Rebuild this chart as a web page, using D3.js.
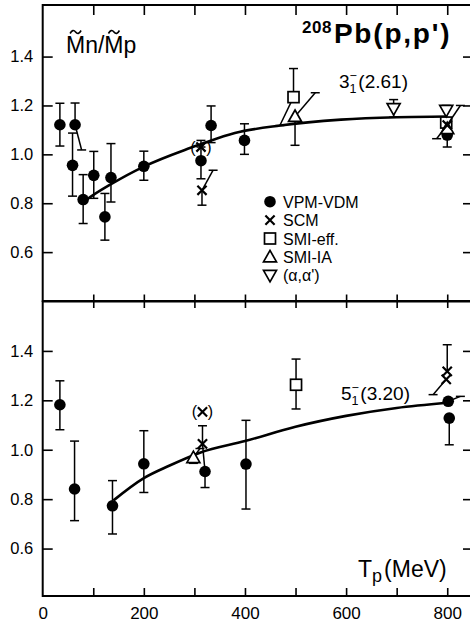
<!DOCTYPE html>
<html>
<head>
<meta charset="utf-8">
<script src="https://cdn.jsdelivr.net/npm/d3@7"></script>
<style>
  html, body { margin: 0; padding: 0; background: #fff; }
  svg { display: block; font-family: "Liberation Sans", Arial, Helvetica, sans-serif; }
</style>
</head>
<body>
<svg id="chart" width="470" height="625"></svg>
<script>
// ---- data: ratio Mn/Mp vs proton energy Tp (MeV), 208Pb(p,p') ----
// error-bar ends: lo/hi values; loT/hiT give the energy at a tilted bar end
const X_LABEL_TICKS = [0, 200, 400, 600, 800];
const X_MINOR_TICKS = [100, 200, 300, 400, 500, 600, 700, 800];
const Y_TICKS = [0.6, 0.8, 1.0, 1.2, 1.4];

// 3- (2.61 MeV) state
const top_vpm = [
  {T: 34,  v: 1.121, lo: 1.034, hi: 1.209},
  {T: 64,  v: 1.121, lo: 1.018, loT: 77, hi: 1.210},
  {T: 59,  v: 0.955, lo: 0.829, hi: 1.087},
  {T: 80,  v: 0.815, lo: 0.717, hi: 0.917},
  {T: 101, v: 0.914, lo: 0.820, hi: 1.012},
  {T: 123, v: 0.744, lo: 0.649, hi: 0.840},
  {T: 135, v: 0.905, lo: 0.805, hi: 1.044},
  {T: 200, v: 0.951, lo: 0.894, hi: 1.013},
  {T: 313, v: 0.974, lo: 0.900, hi: 1.030},
  {T: 333, v: 1.118, lo: 1.048, hi: 1.198},
  {T: 399, v: 1.057, lo: 1.000, hi: 1.125},
  {T: 800, v: 1.079, lo: 1.030}
];
const top_scm = [
  {T: 315, v: 0.853, lo: 0.792, hi: 0.935, hiT: 337},
  {T: 800, v: 1.120, lo: 1.064, loT: 779, hi: 1.200, hiT: 826}
];
const top_scm_bracketed = [
  {T: 313, v: 1.030, hi: 1.057}
];
const top_smiEff = [
  {T: 496, v: 1.234, lo: 1.118, loT: 469, hi: 1.351},
  {T: 798, v: 1.130}
];
const top_smiIA = [
  {T: 499, v: 1.155, lo: 1.037, hi: 1.252, hiT: 539},
  {T: 800, v: 1.105}
];
const top_alpha = [
  {T: 694, v: 1.187, lo: 1.152, hi: 1.224},
  {T: 798, v: 1.180, hi: 1.200}
];
const top_curve = [
  [85, 0.812], [101, 0.835], [135, 0.878], [200, 0.950], [281, 1.018],
  [311, 1.040], [380, 1.087], [470, 1.118], [590, 1.142], [700, 1.152], [800, 1.155]
];

// 5- (3.20 MeV) state
const bot_vpm = [
  {T: 34,  v: 1.182, lo: 1.081, hi: 1.279},
  {T: 63,  v: 0.841, lo: 0.713, hi: 1.035},
  {T: 138, v: 0.773, lo: 0.659, hi: 0.875},
  {T: 200, v: 0.943, lo: 0.827, hi: 1.077},
  {T: 321, v: 0.912, lo: 0.847},
  {T: 402, v: 0.942, lo: 0.760, hi: 1.119},
  {T: 802, v: 1.196, hi: 1.216, hiT: 826},
  {T: 804, v: 1.128, lo: 1.020}
];
const bot_scm = [
  {T: 316, v: 1.024, lo: 0.912, loT: 321, hi: 1.097},
  {T: 800, v: 1.317, hi: 1.425},
  {T: 798, v: 1.285, lo: 1.223, loT: 772}
];
const bot_smiEff = [
  {T: 501, v: 1.263, lo: 1.165, hi: 1.367}
];
const bot_smiIA = [
  {T: 298, v: 0.968, lo: 0.945, hi: 1.005, hiT: 311}
];
const bot_curve = [
  [140, 0.795], [200, 0.885], [250, 0.935], [311, 0.988], [400, 1.035],
  [500, 1.093], [600, 1.137], [700, 1.169], [800, 1.190]
];

const legendItems = [
  {kind: "circle", label: "VPM-VDM"},
  {kind: "cross", label: "SCM"},
  {kind: "square", label: "SMI-eff."},
  {kind: "tri", label: "SMI-IA"},
  {kind: "itri", label: "(\u03b1,\u03b1')"}
];

// ---- layout ----
const svg = d3.select("#chart");
const X0 = 42.7, X1 = 471;
const x = d3.scaleLinear().domain([0, 847]).range([X0, X1]);
const panels = [
  {y: d3.scaleLinear().domain([0.4, 1.611]).range([301, 5])},
  {y: d3.scaleLinear().domain([0.408, 1.6]).range([596, 301.5])}
];
const CAP = 4.5;

function bars(g, y, d) {
  const cx = x(d.T), cy = y(d.v);
  [["hi", "hiT"], ["lo", "loT"]].forEach(([k, kt]) => {
    if (d[k] == null) return;
    const ex = x(d[kt] != null ? d[kt] : d.T), ey = y(d[k]);
    g.append("line").attr("x1", cx).attr("y1", cy).attr("x2", ex).attr("y2", ey);
    g.append("line").attr("x1", ex - CAP).attr("y1", ey).attr("x2", ex + CAP).attr("y2", ey);
  });
}

function symbol(g, kind, cx, cy) {
  if (kind === "circle") {
    g.append("circle").attr("cx", cx).attr("cy", cy).attr("r", 5.8).attr("fill", "#000");
  } else if (kind === "cross") {
    const s = 4.6;
    g.append("path").attr("d", `M${cx - s},${cy - s}L${cx + s},${cy + s}M${cx - s},${cy + s}L${cx + s},${cy - s}`)
      .attr("stroke", "#000").attr("stroke-width", 2.2).attr("fill", "none");
  } else if (kind === "square") {
    g.append("rect").attr("x", cx - 5.5).attr("y", cy - 5.5).attr("width", 11).attr("height", 11)
      .attr("fill", "#fff").attr("stroke", "#000").attr("stroke-width", 1.7);
  } else if (kind === "tri") {
    g.append("path").attr("d", `M${cx},${cy - 6.5}L${cx + 6.5},${cy + 5}L${cx - 6.5},${cy + 5}Z`)
      .attr("fill", "#fff").attr("stroke", "#000").attr("stroke-width", 1.7);
  } else if (kind === "itri") {
    g.append("path").attr("d", `M${cx},${cy + 6.5}L${cx + 6.5},${cy - 5}L${cx - 6.5},${cy - 5}Z`)
      .attr("fill", "#fff").attr("stroke", "#000").attr("stroke-width", 1.7);
  }
}

function series(panel, data, kind) {
  const gb = panel.g.append("g").attr("stroke", "#000").attr("stroke-width", 1.5);
  data.forEach(d => bars(gb, panel.y, d));
  const gs = panel.g.append("g");
  data.forEach(d => symbol(gs, kind, x(d.T), panel.y(d.v)));
}

const line = (y) => d3.line().x(d => x(d[0])).y(d => y(d[1])).curve(d3.curveMonotoneX);

panels.forEach((p, i) => {
  p.g = svg.append("g");
  const [yb, yt] = p.y.range();
  // inward tick marks
  const axL = d3.axisLeft(p.y).tickValues(Y_TICKS).tickSize(-10).tickPadding(9.5)
    .tickFormat(d3.format(".1f"));
  const gL = p.g.append("g").attr("transform", `translate(${X0},0)`).call(axL);
  gL.select(".domain").remove();
  gL.selectAll("line").attr("stroke-width", 1.6);
  gL.selectAll("text").attr("font-size", 16.5).attr("font-family", "Liberation Sans, Arial, sans-serif").attr("fill", "#000");

  const gR = p.g.append("g").attr("transform", `translate(${X1},0)`)
    .call(d3.axisRight(p.y).tickValues(Y_TICKS).tickSize(-8).tickFormat(""));
  gR.select(".domain").remove();
  gR.selectAll("line").attr("stroke-width", 1.6);

  const gT = p.g.append("g").attr("transform", `translate(0,${yt})`)
    .call(d3.axisTop(x).tickValues(X_MINOR_TICKS).tickSize(i === 0 ? -10 : 7).tickFormat(""));
  gT.select(".domain").remove();
  gT.selectAll("line").attr("stroke-width", 1.6);
  const gB = p.g.append("g").attr("transform", `translate(0,${yb})`)
    .call(d3.axisBottom(x).tickValues(X_MINOR_TICKS).tickSize(i === 0 ? 7 : -8).tickFormat(""));
  gB.select(".domain").remove();
  gB.selectAll("line").attr("stroke-width", 1.6);

  // frame
  p.g.append("rect").attr("x", X0).attr("y", yt).attr("width", X1 - X0).attr("height", yb - yt)
    .attr("fill", "none").attr("stroke", "#000").attr("stroke-width", 2);
});

// x-axis labels under the lower panel
const gX = svg.append("g").attr("transform", `translate(0,596)`)
  .call(d3.axisBottom(x).tickValues(X_LABEL_TICKS).tickSize(0).tickPadding(11).tickFormat(d3.format("d")));
gX.select(".domain").remove();
gX.selectAll("text").attr("font-size", 17).attr("font-family", "Liberation Sans, Arial, sans-serif").attr("fill", "#000");

// ---- upper panel ----
const P0 = panels[0];
P0.g.append("path").datum(top_curve).attr("d", line(P0.y))
  .attr("fill", "none").attr("stroke", "#000").attr("stroke-width", 2.6);
series(P0, top_vpm, "circle");
series(P0, top_smiEff, "square");
series(P0, top_smiIA, "tri");
series(P0, top_alpha, "itri");
series(P0, top_scm, "cross");
series(P0, top_scm_bracketed, "cross");
top_scm_bracketed.forEach(d => {
  const cx = x(d.T), cy = P0.y(d.v);
  P0.g.append("text").attr("x", cx - 8).attr("y", cy + 5.5).attr("text-anchor", "middle")
    .attr("font-size", 16).text("(");
  P0.g.append("text").attr("x", cx + 8).attr("y", cy + 5.5).attr("text-anchor", "middle")
    .attr("font-size", 16).text(")");
});

// ratio label, with a tilde drawn over each M
const RX = 66, RY = 53;
const ratio = svg.append("text").attr("x", RX).attr("y", RY).attr("font-size", 23);
const parts = ["M", "n/", "M", "p"].map(s => ratio.append("tspan").text(s));
let acc = RX;
parts.forEach((ts, k) => {
  const w = ts.node().getComputedTextLength();
  if (k === 0 || k === 2) {
    const cx = acc + w / 2, cy = 32, hw = 5.5;
    svg.append("path")
      .attr("d", `M ${cx - hw} ${cy + 1.5} Q ${cx - hw / 2} ${cy - 3.5} ${cx} ${cy} T ${cx + hw} ${cy - 1.5}`)
      .attr("fill", "none").attr("stroke", "#000").attr("stroke-width", 1.6);
  }
  acc += w;
});

// reaction title
const title = svg.append("text").attr("x", 302).attr("y", 43).attr("font-weight", "bold");
title.append("tspan").attr("font-size", 17).attr("letter-spacing", 0.5).attr("dy", -10).text("208");
title.append("tspan").attr("font-size", 28).attr("letter-spacing", 1.8).attr("dy", 10).attr("dx", 2).text("Pb(p,p')");

// state label, e.g. 3-1 (2.61)
function stateLabel(g, xx, yy, n, rest) {
  const t = g.append("text").attr("x", xx).attr("y", yy).attr("font-size", 19);
  t.append("tspan").text(n);
  t.append("tspan").attr("font-size", 12.5).attr("dy", 5).text("1");
  t.append("tspan").attr("font-size", 12.5).attr("dx", -7).attr("dy", -13).text("\u2212");
  t.append("tspan").attr("dy", 8).attr("dx", 1.5).text(rest);
}
stateLabel(svg, 339, 88, "3", "(2.61)");

// legend
const lg = svg.append("g");
legendItems.forEach((it, i) => {
  const cy = 201.7 + i * 18.4;
  symbol(lg, it.kind, 270, cy);
  lg.append("text").attr("x", 283).attr("y", cy + 6).attr("font-size", 16).text(it.label);
});

// ---- lower panel ----
const P1 = panels[1];
P1.g.append("path").datum(bot_curve).attr("d", line(P1.y))
  .attr("fill", "none").attr("stroke", "#000").attr("stroke-width", 2.6);
series(P1, bot_vpm, "circle");
series(P1, bot_smiEff, "square");
series(P1, bot_smiIA, "tri");
series(P1, bot_scm, "cross");

// bracketed SCM marker label
{
  const cx = x(316), cy = P1.y(1.153);
  symbol(P1.g, "cross", cx, cy);
  P1.g.append("text").attr("x", cx - 8).attr("y", cy + 5.5).attr("text-anchor", "middle").attr("font-size", 16).text("(");
  P1.g.append("text").attr("x", cx + 8).attr("y", cy + 5.5).attr("text-anchor", "middle").attr("font-size", 16).text(")");
}
stateLabel(svg, 341, 400, "5", "(3.20)");

// energy axis title
const tp = svg.append("text").attr("x", 358).attr("y", 577).attr("font-size", 23);
tp.append("tspan").text("T");
tp.append("tspan").attr("font-size", 18).attr("dy", 5).text("p");
tp.append("tspan").attr("dy", -5).attr("dx", 2).text("(MeV)");
</script>
</body>
</html>
